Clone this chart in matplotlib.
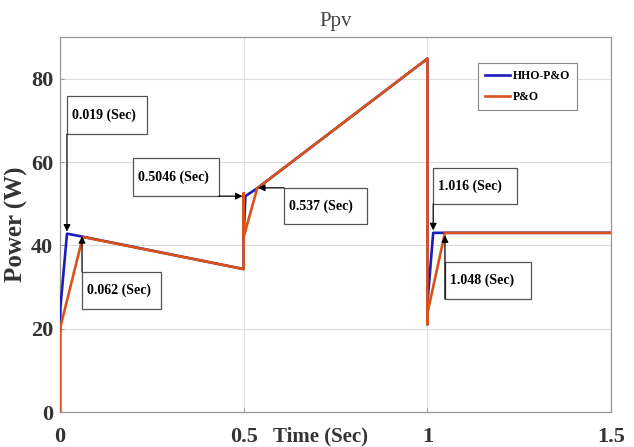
import matplotlib
matplotlib.use("Agg")
import matplotlib.pyplot as plt
from matplotlib.patches import Rectangle

# data
t_hho = [0, 0, 0.001, 0.019, 0.055, 0.5, 0.5, 0.5046, 0.537, 1.0, 1.0, 1.001, 1.016, 1.048, 1.5]
p_hho = [0, 17, 25, 42.8, 42.2, 34.3, 42, 51.8, 53.7, 84.8, 21, 27, 43, 43, 43]

t_po = [0, 0, 0.062, 0.5, 0.5, 0.5, 0.537, 1.0, 1.0, 1.001, 1.048, 1.5]
p_po = [0, 20, 42, 34.3, 52.5, 42, 53.7, 84.8, 21, 24, 43, 43]

x_ticks = [0, 0.5, 1, 1.5]
x_tick_labels = ["0", "0.5", "1", "1.5"]
y_ticks = [0, 20, 40, 60, 80]

# annotation: label, box (x0, y0, x1, y1), arrow start, arrow tip
notes = [
    ("0.019 (Sec)", (0.019, 66.7, 0.237, 75.8), (0.019, 66.7), (0.019, 43.3)),
    ("0.062 (Sec)", (0.060, 24.7, 0.275, 33.6), (0.060, 33.6), (0.060, 42.2)),
    ("0.5046 (Sec)", (0.199, 51.8, 0.433, 61.0), (0.433, 51.8), (0.497, 51.8)),
    ("0.537 (Sec)", (0.610, 45.1, 0.836, 53.8), (0.610, 53.8), (0.539, 53.8)),
    ("1.016 (Sec)", (1.016, 49.9, 1.244, 58.6), (1.016, 49.9), (1.016, 43.6)),
    ("1.048 (Sec)", (1.048, 27.1, 1.282, 36.0), (1.048, 27.1), (1.048, 42.4)),
]

serif = "Liberation Serif"
blue = "#1c1cb8"
orange = "#d95319"

fig = plt.figure(figsize=(6.34, 4.47), dpi=100)
ax = fig.add_axes([60 / 634, 35 / 447, 551 / 634, 375 / 447])

ax.plot(t_hho, p_hho, color=blue, lw=1.9, label="HHO-P&O", zorder=3)
ax.plot(t_po, p_po, color=orange, lw=1.9, label="P&O", zorder=4)

ax.set_xlim(0, 1.5)
ax.set_ylim(0, 90)
ax.set_xticks(x_ticks)
ax.set_xticklabels(x_tick_labels)
ax.set_yticks(y_ticks)
ax.grid(True, color="#dcdcdc", lw=0.8)
ax.set_axisbelow(True)
for s in ax.spines.values():
    s.set_color("#999999")
    s.set_linewidth(0.9)
ax.tick_params(direction="in", length=3, color="#999999")
ax.tick_params(axis="x", pad=11)
ax.tick_params(axis="y", pad=5)
for lab in ax.get_xticklabels() + ax.get_yticklabels():
    lab.set_fontfamily(serif)
    lab.set_fontweight("bold")
    lab.set_fontsize(16)
    lab.set_color("#333333")

ax.set_title("Ppv", fontfamily=serif, fontsize=15, color="#444444", pad=8)
ax.set_ylabel("Power (W)", fontfamily=serif, fontweight="bold", fontsize=18,
              color="#333333", labelpad=2)
ax.text(0.472, -0.064, "Time (Sec)", transform=ax.transAxes, ha="center", va="center",
        fontfamily=serif, fontweight="bold", fontsize=15, color="#333333")

for label, (x0, y0, x1, y1), start, tip in notes:
    ax.add_patch(Rectangle((x0, y0), x1 - x0, y1 - y0, fill=True, fc="white",
                           ec="#555555", lw=0.9, zorder=5))
    ax.text(x0 + 0.013, (y0 + y1) / 2, label, fontfamily=serif, fontweight="bold",
            fontsize=10, ha="left", va="center", zorder=6)
    ax.annotate("", xy=tip, xytext=start,
                arrowprops=dict(arrowstyle="-|>", color="black", lw=0.9,
                                mutation_scale=10, shrinkA=0, shrinkB=0),
                zorder=6)

leg = ax.legend(loc="upper left", bbox_to_anchor=(0.759, 0.931), fancybox=False,
                edgecolor="#888888", framealpha=1, handlelength=2.1,
                borderpad=0.6, labelspacing=0.75, handletextpad=0.25,
                borderaxespad=0,
                prop={"family": serif, "weight": "bold", "size": 8.5})
leg.get_frame().set_linewidth(0.8)

fig.savefig("out.png", dpi=100)
